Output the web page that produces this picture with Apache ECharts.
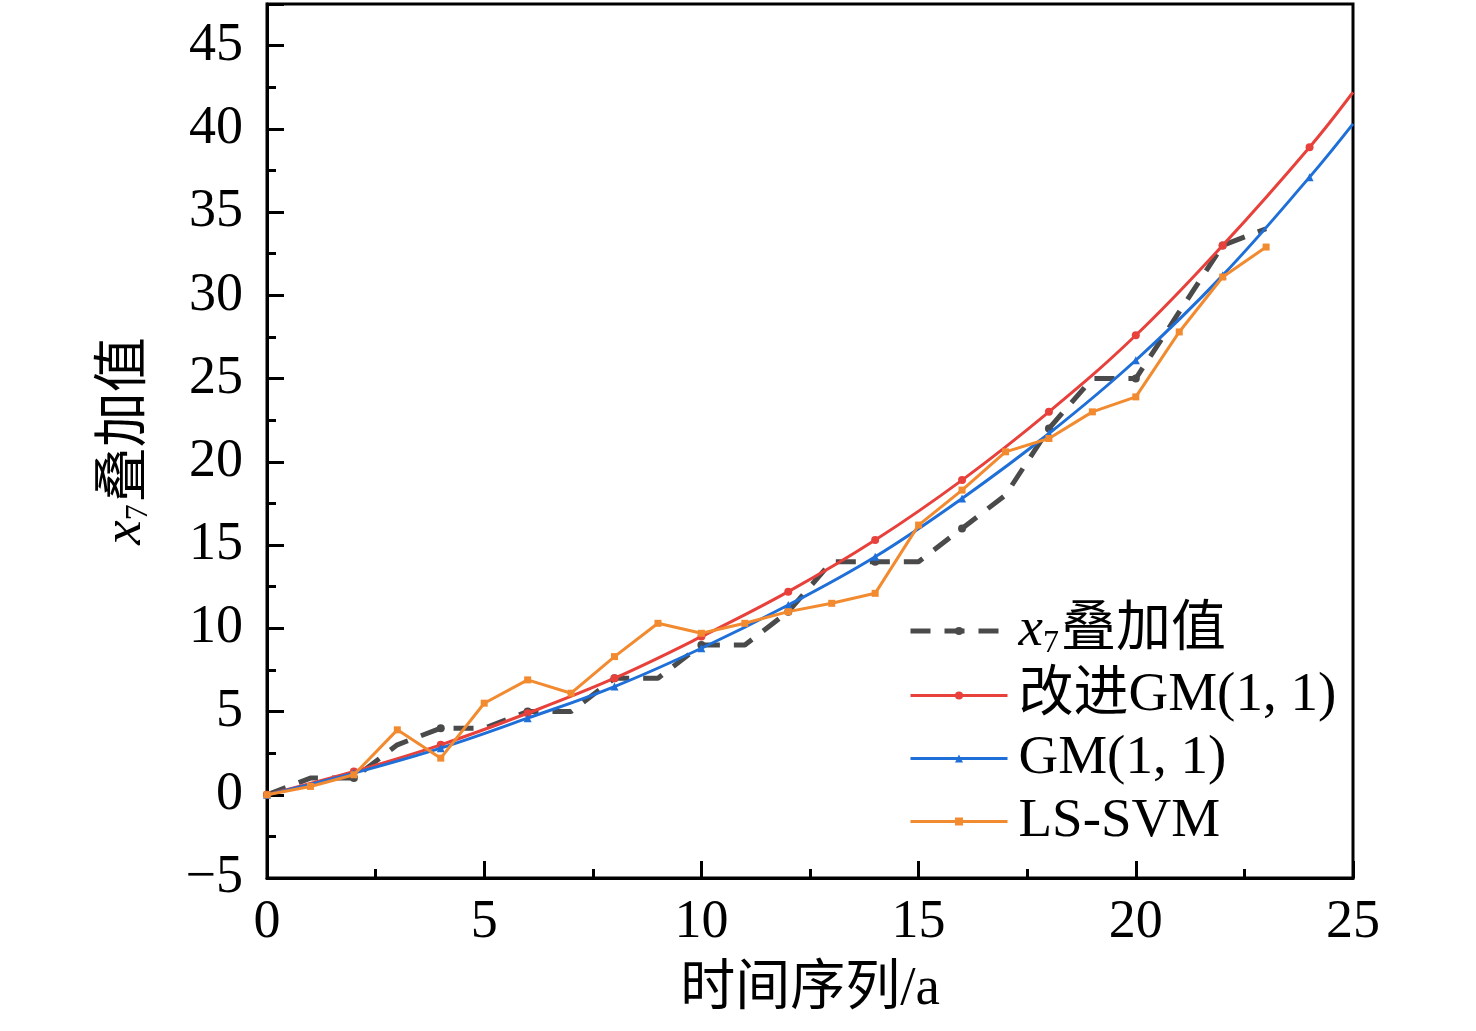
<!DOCTYPE html>
<html>
<head>
<meta charset="utf-8">
<script src="https://cdn.jsdelivr.net/npm/echarts@6/dist/echarts.min.js"></script>
<style>
html, body { margin: 0; padding: 0; background: #fff; }
#main { width: 1476px; height: 1031px; }
</style>
</head>
<body>
<div id="main"></div>
<script>
var chart = echarts.init(document.getElementById('main'));

// 时间序列 (a)
var xAll = [0,1,2,3,4,5,6,7,8,9,10,11,12,13,14,15,16,17,18,19,20,21,22,23];
var xFit = [0,2,4,6,8,10,12,14,16,18,20,22,24,25];

// x7 叠加值 (observed)
var observed = [0,1,1,3,4,4,5,5,7,7,9,9,11,14,14,14,16,18,22,25,25,29,33,34];
// 改进GM(1, 1)
var improvedGM = [0,1.4,3.0,4.9,7.0,9.5,12.2,15.3,18.9,23.0,27.6,33.0,38.9,42.2];
// GM(1, 1)
var gm = [0,1.3,2.8,4.6,6.5,8.8,11.4,14.3,17.8,21.7,26.1,31.2,37.1,40.3];
// LS-SVM
var lssvm = [0,0.5,1.2,3.9,2.2,5.5,6.9,6.1,8.3,10.3,9.7,10.3,11.0,11.5,12.1,16.2,18.3,20.6,21.4,23.0,23.9,27.8,31.1,32.9];

var names = ['x7叠加值', '改进GM(1, 1)', 'GM(1, 1)', 'LS-SVM'];

var serif = '"Liberation Serif", "Noto Sans CJK SC", serif';
var fs = 55;

var richSub = {
    i: { fontFamily: serif, fontStyle: 'italic', fontSize: fs, lineHeight: 58, verticalAlign: 'middle' },
    s: { fontFamily: serif, fontSize: 32, lineHeight: 58, verticalAlign: 'bottom', padding: [0, 2, 0, 0] },
    t: { fontFamily: serif, fontSize: fs, lineHeight: 58, verticalAlign: 'middle' }
};

function pairs(xs, ys, markEvery, lastNone) {
    var out = [];
    for (var i = 0; i < ys.length; i++) {
        var item = { value: [xs[i], ys[i]] };
        if ((markEvery && xs[i] % 2 !== 0) || (lastNone && i === ys.length - 1)) {
            item.symbol = 'none';
        }
        out.push(item);
    }
    return out;
}

var option = {
    animation: false,
    backgroundColor: '#fff',
    grid: {
        left: 267, right: 123, top: 4, bottom: 153,
        show: true, borderColor: '#000', borderWidth: 3
    },
    legend: {
        orient: 'vertical',
        left: 903,
        top: 597,
        itemWidth: 97,
        itemHeight: 10,
        itemGap: 8,
        data: [
            { name: names[0], lineStyle: { width: 5 } },
            { name: names[1], lineStyle: { width: 3 } },
            { name: names[2], lineStyle: { width: 3 } },
            { name: names[3], lineStyle: { width: 3 } }
        ],
        formatter: function (name) {
            if (name === names[0]) return '{i|x}{s|7}{t|叠加值}';
            return name;
        },
        textStyle: {
            fontFamily: serif,
            fontSize: fs,
            lineHeight: 55,
            color: '#000',
            padding: [0, 0, 0, 6],
            rich: richSub
        }
    },
    xAxis: {
        type: 'value',
        min: 0, max: 25, interval: 5,
        name: '时间序列/a',
        nameLocation: 'middle',
        nameGap: 84,
        nameTextStyle: { fontFamily: serif, fontSize: fs, color: '#000' },
        axisLine: { onZero: false, lineStyle: { color: '#000', width: 3 } },
        axisTick: { inside: true, length: 17, lineStyle: { color: '#000', width: 3 } },
        minorTick: { show: true, splitNumber: 2, length: 9, lineStyle: { color: '#000', width: 3 } },
        axisLabel: { fontFamily: serif, fontSize: 54, color: '#000', margin: 18 },
        splitLine: { show: false }
    },
    yAxis: [{
        type: 'value',
        min: -5, max: 47.5, interval: 5,
        name: '{i|x}{s|7}{t|叠加值}',
        nameLocation: 'middle',
        nameGap: 112,
        nameRotate: 90,
        nameTextStyle: { fontFamily: serif, fontSize: fs, color: '#000', rich: richSub },
        axisLine: { onZero: false, lineStyle: { color: '#000', width: 3 } },
        axisTick: { inside: true, length: 17, lineStyle: { color: '#000', width: 3 } },
        axisLabel: {
            fontFamily: serif, fontSize: 54, color: '#000', margin: 24,
            formatter: function (v) {
                if (v % 5 !== 0) return '';
                return v < 0 ? '\u2212' + Math.abs(v) : String(v);
            }
        },
        splitLine: { show: false }
    }, {
        type: 'value',
        position: 'left',
        min: -5, max: 47.5, interval: 2.5,
        axisLine: { show: false },
        axisTick: { inside: true, length: 9, lineStyle: { color: '#000', width: 3 } },
        axisLabel: { show: false },
        splitLine: { show: false }
    }],
    series: [{
        name: names[0],
        type: 'line',
        data: pairs(xAll, observed, true, false),
        symbol: 'circle',
        symbolSize: 8,
        color: '#4a4a4a',
        lineStyle: { color: '#4a4a4a', width: 5, type: [20, 14] },
        itemStyle: { color: '#4a4a4a' },
        z: 2
    }, {
        name: names[1],
        type: 'line',
        data: pairs(xFit, improvedGM, false, true),
        smooth: 0.4,
        symbol: 'circle',
        symbolSize: 8,
        color: '#e8413c',
        lineStyle: { color: '#e8413c', width: 3 },
        itemStyle: { color: '#e8413c' },
        z: 3
    }, {
        name: names[2],
        type: 'line',
        data: pairs(xFit, gm, false, true),
        smooth: 0.4,
        symbol: 'triangle',
        symbolSize: 8,
        color: '#1f6fd8',
        lineStyle: { color: '#1f6fd8', width: 3 },
        itemStyle: { color: '#1f6fd8' },
        z: 4
    }, {
        name: names[3],
        type: 'line',
        data: pairs(xAll, lssvm, false, false),
        symbol: 'rect',
        symbolSize: 7,
        color: '#f28a30',
        lineStyle: { color: '#f28a30', width: 3 },
        itemStyle: { color: '#f28a30' },
        z: 5
    }]
};

chart.setOption(option);
</script>
</body>
</html>
